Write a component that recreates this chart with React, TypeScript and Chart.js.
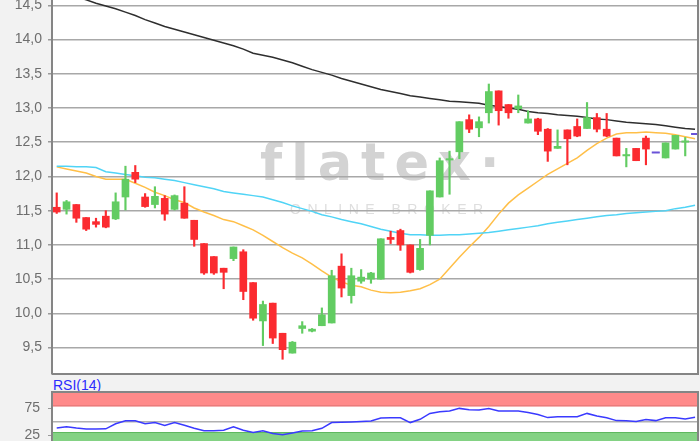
import React, { useEffect, useRef } from 'react';
import { Chart, registerables } from 'chart.js';

Chart.register(...registerables);

// ---- Data ----
const OPEN = [11.55, 11.52, 11.59, 11.40, 11.34, 11.42, 11.38, 11.70, 12.06, 11.70, 11.59, 11.68, 11.52, 11.61, 11.36, 11.02, 10.83, 10.66, 10.80, 10.90, 10.45, 9.89, 10.15, 9.71, 9.42, 9.78, 9.74, 9.82, 9.86, 10.69, 10.26, 10.47, 10.50, 10.50, 11.11, 11.21, 11.00, 10.64, 11.14, 11.70, 12.24, 12.36, 12.83, 12.71, 12.93, 13.25, 13.05, 12.99, 12.78, 12.84, 12.69, 12.41, 12.68, 12.73, 12.70, 12.86, 12.69, 12.56, 12.30, 12.41, 12.56, 12.35, 12.27, 12.40, 12.50, 12.62];
const HIGH = [11.76, 11.65, 11.59, 11.40, 11.39, 11.50, 11.76, 12.15, 12.16, 11.75, 11.85, 11.72, 11.73, 11.85, 11.36, 11.02, 10.83, 10.66, 10.97, 10.93, 10.45, 10.18, 10.15, 9.71, 9.59, 9.88, 9.78, 10.08, 10.63, 10.87, 10.66, 10.64, 10.60, 11.09, 11.20, 11.23, 11.00, 11.08, 11.79, 12.27, 12.37, 12.80, 12.90, 12.87, 13.35, 13.25, 13.05, 13.19, 12.96, 12.85, 12.70, 12.68, 12.68, 12.84, 13.08, 12.92, 12.92, 12.56, 12.41, 12.41, 12.59, 12.35, 12.49, 12.60, 12.57, 12.62];
const LOW = [11.46, 11.45, 11.33, 11.21, 11.26, 11.25, 11.37, 11.51, 11.91, 11.55, 11.54, 11.36, 11.51, 11.39, 10.98, 10.57, 10.57, 10.36, 10.77, 10.20, 9.90, 9.53, 9.56, 9.33, 9.42, 9.71, 9.73, 9.82, 9.86, 10.24, 10.15, 10.44, 10.44, 10.50, 11.02, 10.92, 10.59, 10.63, 11.00, 11.70, 11.74, 12.26, 12.64, 12.58, 12.78, 12.75, 12.85, 12.93, 12.78, 12.61, 12.22, 12.41, 12.17, 12.58, 12.70, 12.65, 12.58, 12.30, 12.14, 12.23, 12.17, 12.35, 12.27, 12.40, 12.30, 12.62];
const CLOSE = [11.48, 11.63, 11.39, 11.23, 11.30, 11.26, 11.63, 11.96, 11.96, 11.56, 11.71, 11.45, 11.72, 11.39, 11.08, 10.59, 10.59, 10.60, 10.97, 10.32, 9.93, 10.13, 9.64, 9.47, 9.58, 9.82, 9.77, 9.98, 10.55, 10.37, 10.55, 10.53, 10.59, 11.09, 11.08, 11.00, 10.60, 10.95, 11.79, 12.23, 12.26, 12.80, 12.69, 12.80, 13.24, 12.96, 12.93, 13.03, 12.84, 12.66, 12.37, 12.44, 12.55, 12.59, 12.86, 12.69, 12.59, 12.30, 12.32, 12.23, 12.40, 12.35, 12.49, 12.60, 12.52, 12.62];

const MA_LONG = [14.70, 14.66, 14.62, 14.58, 14.53, 14.49, 14.45, 14.40, 14.35, 14.29, 14.24, 14.19, 14.15, 14.11, 14.07, 14.03, 13.99, 13.95, 13.91, 13.86, 13.80, 13.77, 13.74, 13.70, 13.66, 13.61, 13.56, 13.52, 13.48, 13.43, 13.39, 13.35, 13.31, 13.27, 13.24, 13.21, 13.18, 13.16, 13.14, 13.12, 13.10, 13.09, 13.08, 13.07, 13.04, 13.02, 13.00, 12.98, 12.95, 12.93, 12.92, 12.90, 12.89, 12.88, 12.86, 12.84, 12.83, 12.81, 12.79, 12.78, 12.77, 12.76, 12.74, 12.72, 12.70, 12.69];
const MA_MID = [12.15, 12.15, 12.14, 12.14, 12.13, 12.07, 12.05, 12.03, 12.01, 11.99, 11.98, 11.96, 11.94, 11.91, 11.88, 11.85, 11.82, 11.78, 11.76, 11.74, 11.72, 11.70, 11.66, 11.62, 11.57, 11.53, 11.49, 11.44, 11.41, 11.37, 11.34, 11.31, 11.27, 11.23, 11.20, 11.17, 11.15, 11.15, 11.14, 11.14, 11.15, 11.15, 11.16, 11.17, 11.18, 11.20, 11.22, 11.24, 11.26, 11.28, 11.31, 11.33, 11.35, 11.37, 11.39, 11.41, 11.43, 11.44, 11.46, 11.47, 11.48, 11.49, 11.50, 11.53, 11.55, 11.58];
const MA_SHORT = [12.14, 12.11, 12.08, 12.05, 12.00, 11.96, 11.96, 11.96, 11.90, 11.84, 11.77, 11.72, 11.66, 11.62, 11.54, 11.48, 11.43, 11.37, 11.34, 11.28, 11.22, 11.14, 11.05, 10.96, 10.88, 10.81, 10.72, 10.62, 10.53, 10.46, 10.41, 10.39, 10.34, 10.31, 10.30, 10.31, 10.33, 10.36, 10.42, 10.50, 10.66, 10.82, 10.97, 11.11, 11.27, 11.45, 11.61, 11.73, 11.83, 11.93, 12.03, 12.11, 12.19, 12.27, 12.38, 12.48, 12.56, 12.62, 12.64, 12.64, 12.65, 12.64, 12.63, 12.61, 12.58, 12.55];

const RSI = [38.4, 40.8, 38.4, 36.5, 36.5, 36.9, 46.1, 51.7, 51.7, 46.2, 48.3, 42.8, 48.6, 43.3, 38.0, 33.4, 33.4, 34.2, 40.6, 34.2, 30.1, 33.4, 28.3, 25.9, 29.2, 32.9, 33.4, 37.8, 48.3, 48.8, 49.4, 50.3, 51.2, 56.7, 57.2, 57.1, 48.3, 54.3, 65.1, 68.2, 69.5, 74.3, 71.9, 71.3, 74.1, 69.5, 69.5, 69.3, 66.6, 63.1, 57.4, 59.1, 59.1, 59.1, 65.1, 60.3, 57.2, 51.9, 51.7, 50.1, 54.1, 51.9, 57.2, 57.2, 55.0, 58.0];

const PRICE_TICKS = [9.5, 10, 10.5, 11, 11.5, 12, 12.5, 13, 13.5, 14, 14.5];
const RSI_TICKS = [25, 75];
const RSI_UPPER_BAND = [78, 120];
const RSI_LOWER_BAND = [-30, 31];
const RSI_MID = 50;
const RSI_LABEL = 'RSI(14)';

// ---- Styles ----
const UP = '#62cc62';
const DOWN = '#fb2b30';
const FLAT = '#6a52d8';
const FONT = "'Liberation Sans', Arial, sans-serif";

const idx = OPEN.map((_, i) => i);
const candleColors = idx.map(i => (CLOSE[i] >= OPEN[i] ? UP : DOWN));

const setSpacing = (ctx: any, v: string) => {
  try { ctx.letterSpacing = v; } catch (e) { /* ignore */ }
};

const mainFrame = {
  id: 'mainFrame',
  beforeDraw(chart: any) {
    const { ctx, chartArea: a } = chart;
    ctx.save();
    ctx.fillStyle = '#ffffff';
    ctx.fillRect(a.left, a.top, a.right - a.left, a.bottom - a.top);
    // watermark
    ctx.fillStyle = '#d3d3d3';
    ctx.font = "bold 51px 'DejaVu Sans', sans-serif";
    ctx.textBaseline = 'alphabetic';
    ctx.textAlign = 'left';
    setSpacing(ctx, '9px');
    ctx.fillText('flatex\u00b7', 260, 180);
    ctx.fillStyle = '#dedede';
    ctx.font = '14px ' + FONT;
    setSpacing(ctx, '6.5px');
    ctx.fillText('ONLINE BROKER', 290, 214);
    setSpacing(ctx, '0px');
    ctx.restore();
  },
  afterDraw(chart: any) {
    const { ctx, chartArea: a } = chart;
    ctx.save();
    ctx.strokeStyle = '#858585';
    ctx.lineWidth = 2;
    ctx.beginPath();
    ctx.moveTo(a.left, a.bottom);
    ctx.lineTo(a.right, a.bottom);
    ctx.lineTo(a.right, a.top);
    ctx.stroke();
    ctx.restore();
  },
};

const rsiFrame = {
  id: 'rsiFrame',
  beforeDraw(chart: any) {
    const { ctx, chartArea: a, scales } = chart;
    const y = scales.y;
    ctx.save();
    ctx.fillStyle = '#ffffff';
    ctx.fillRect(a.left, a.top, a.right - a.left, a.bottom - a.top);
    // upper band
    const u0 = Math.max(a.top, y.getPixelForValue(RSI_UPPER_BAND[1]));
    const u1 = y.getPixelForValue(RSI_UPPER_BAND[0]);
    ctx.fillStyle = '#ff8a8a';
    ctx.fillRect(a.left, u0, a.right - a.left, u1 - u0);
    ctx.strokeStyle = '#e07474';
    ctx.lineWidth = 1;
    ctx.beginPath();
    ctx.moveTo(a.left, u1 - 0.5);
    ctx.lineTo(a.right, u1 - 0.5);
    ctx.stroke();
    // lower band
    const l0 = y.getPixelForValue(RSI_LOWER_BAND[1]);
    const l1 = Math.min(a.bottom, y.getPixelForValue(RSI_LOWER_BAND[0]));
    ctx.fillStyle = '#84d284';
    ctx.fillRect(a.left, l0, a.right - a.left, l1 - l0);
    ctx.strokeStyle = '#5fb85f';
    ctx.beginPath();
    ctx.moveTo(a.left, l0 + 0.5);
    ctx.lineTo(a.right, l0 + 0.5);
    ctx.stroke();
    // mid line
    const m = y.getPixelForValue(RSI_MID);
    ctx.strokeStyle = '#b0b0b0';
    ctx.lineWidth = 1.5;
    ctx.beginPath();
    ctx.moveTo(a.left, m);
    ctx.lineTo(a.right, m);
    ctx.stroke();
    ctx.restore();
  },
  afterDraw(chart: any) {
    const { ctx, chartArea: a } = chart;
    ctx.save();
    ctx.strokeStyle = '#858585';
    ctx.lineWidth = 2;
    ctx.beginPath();
    ctx.moveTo(a.left, a.top);
    ctx.lineTo(a.right, a.top);
    ctx.lineTo(a.right, a.bottom);
    ctx.stroke();
    ctx.restore();
  },
};

const X_MIN = -0.48;
const X_MAX = 65.3;

export default function App() {
  const mainRef = useRef<HTMLCanvasElement>(null);
  const rsiRef = useRef<HTMLCanvasElement>(null);

  useEffect(() => {
    const flats = idx
      .filter(i => HIGH[i] === LOW[i])
      .map(i => ({ x: i, y: CLOSE[i] }));

    const main = new Chart(mainRef.current as HTMLCanvasElement, {
      type: 'bar',
      data: {
        datasets: [
          {
            type: 'line',
            data: MA_LONG.map((y, i) => ({ x: i, y })),
            borderColor: '#2e2e2e',
            borderWidth: 1.5,
            pointRadius: 0,
            order: 3,
          } as any,
          {
            type: 'line',
            data: MA_MID.map((y, i) => ({ x: i, y })),
            borderColor: '#50d4f6',
            borderWidth: 1.5,
            pointRadius: 0,
            order: 3,
          } as any,
          {
            type: 'line',
            data: MA_SHORT.map((y, i) => ({ x: i, y })),
            borderColor: '#ffbf48',
            borderWidth: 1.5,
            pointRadius: 0,
            order: 3,
          } as any,
          {
            type: 'bar',
            data: idx.map(i => ({ x: i, y: [LOW[i], HIGH[i]] })),
            backgroundColor: candleColors,
            barThickness: 1.5,
            grouped: false,
            order: 2,
          } as any,
          {
            type: 'bar',
            data: idx.map(i => ({ x: i, y: [OPEN[i], CLOSE[i]] })),
            backgroundColor: candleColors,
            barThickness: 7,
            grouped: false,
            order: 1,
          } as any,
          {
            type: 'line',
            data: flats,
            showLine: false,
            pointStyle: 'line',
            pointRadius: 4,
            pointBorderWidth: 2,
            pointBorderColor: FLAT,
            borderColor: FLAT,
            order: 0,
          } as any,
        ],
      },
      options: {
        animation: false,
        responsive: false,
        maintainAspectRatio: false,
        layout: { autoPadding: false, padding: { left: 0, right: 2, top: 0, bottom: 2 } },
        plugins: { legend: { display: false }, tooltip: { enabled: false } },
        scales: {
          x: { type: 'linear', min: X_MIN, max: X_MAX, offset: false, display: false },
          y: {
            type: 'linear',
            position: 'left',
            min: 9.115,
            max: 14.577,
            afterBuildTicks: (s: any) => { s.ticks = PRICE_TICKS.map(v => ({ value: v })); },
            afterFit: (s: any) => { s.width = 52; s.paddingTop = 0; s.paddingBottom = 0; },
            ticks: {
              callback: (v: any) => Number(v).toFixed(1).replace('.', ','),
              color: '#6e6e6e',
              font: { family: FONT, size: 14 },
              padding: 6,
            },
            grid: { color: '#a8a8a8', lineWidth: 1.5, tickLength: 4, tickColor: '#9a9a9a' },
            border: { color: '#858585', width: 2 },
          },
        },
      } as any,
      plugins: [mainFrame],
    });

    const rsi = new Chart(rsiRef.current as HTMLCanvasElement, {
      type: 'line',
      data: {
        datasets: [
          {
            data: RSI.map((y, i) => ({ x: i, y })),
            borderColor: '#3a3aff',
            borderWidth: 1.5,
            pointRadius: 0,
          },
        ],
      },
      options: {
        animation: false,
        responsive: false,
        maintainAspectRatio: false,
        layout: { autoPadding: false, padding: { left: 0, right: 2, top: 6, bottom: 0 } },
        plugins: { legend: { display: false }, tooltip: { enabled: false } },
        scales: {
          x: { type: 'linear', min: X_MIN, max: X_MAX, offset: false, display: false },
          y: {
            type: 'linear',
            position: 'left',
            min: -12.9,
            max: 104.3,
            afterBuildTicks: (s: any) => { s.ticks = RSI_TICKS.map(v => ({ value: v })); },
            afterFit: (s: any) => { s.width = 52; s.paddingTop = 0; s.paddingBottom = 0; },
            ticks: {
              callback: (v: any) => String(v),
              color: '#6e6e6e',
              font: { family: FONT, size: 14 },
              padding: 8,
            },
            grid: { color: 'rgba(0,0,0,0)', tickLength: 4, tickColor: '#9a9a9a' },
            border: { color: '#858585', width: 2 },
          },
        },
      } as any,
      plugins: [rsiFrame],
    });

    return () => {
      main.destroy();
      rsi.destroy();
    };
  }, []);

  return (
    <div
      style={{
        position: 'fixed',
        left: 0,
        top: 0,
        width: 700,
        height: 441,
        overflow: 'hidden',
        background: '#f2f2f2',
      }}
    >
      <canvas
        ref={mainRef}
        width={700}
        height={376}
        style={{ position: 'absolute', left: 0, top: 0, width: 700, height: 376 }}
      />
      <div
        style={{
          position: 'absolute',
          left: 53,
          top: 377,
          font: '14px ' + FONT,
          lineHeight: '16px',
          color: '#2b2bff',
          whiteSpace: 'nowrap',
        }}
      >
        {RSI_LABEL}
      </div>
      <canvas
        ref={rsiRef}
        width={700}
        height={70}
        style={{ position: 'absolute', left: 0, top: 386, width: 700, height: 70 }}
      />
    </div>
  );
}
